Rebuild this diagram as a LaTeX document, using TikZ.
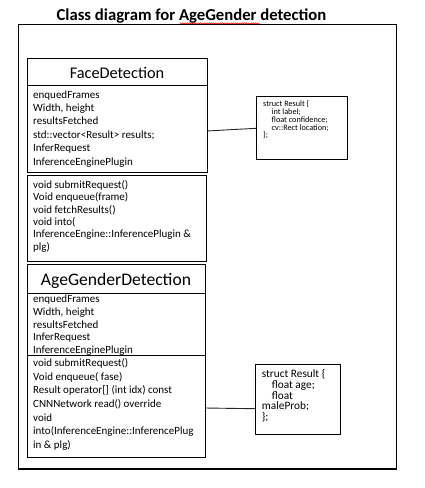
\documentclass[tikz,border=0pt]{standalone}
\usepackage{fontspec}
\setmainfont{Carlito}
\usetikzlibrary{decorations.pathmorphing}
\begin{document}
\begin{tikzpicture}[x=1pt,y=-1pt,
  box/.style={draw=black, line width=0.9pt, inner sep=0pt, outer sep=0pt, anchor=north west},
  frame/.style={draw=black, line width=1.3pt, inner sep=0pt, outer sep=0pt, anchor=north west},
  conn/.style={draw=black!85, line width=0.9pt},
  attr/.style={font=\fontsize{11}{13}\selectfont, anchor=base west, inner sep=0pt},
  ctitle/.style={anchor=base, inner sep=0pt},
  sA/.style={font=\fontsize{8.2}{9}\selectfont, anchor=base west, inner sep=0pt},
  sB/.style={font=\fontsize{11.3}{12}\selectfont, anchor=base west, inner sep=0pt}]
\useasboundingbox (0,0) rectangle (424,488);
% title
\node[ctitle, font=\bfseries\fontsize{16.7}{20}\selectfont] (title) at (191.5,20.7) {Class diagram for AgeGender detection};
% outer frame
\node[frame, minimum width=378pt, minimum height=444.5pt] (frm) at (18.5,24.5) {};
\draw[red, line width=0.5pt, decorate, decoration={snake, amplitude=0.6pt, segment length=2.2pt}] (180,23.4) -- (259.5,23.4);
% FaceDetection
\node[box, minimum width=180pt, minimum height=27pt] (fdtitle) at (27,58) {};
\node[box, minimum width=180pt, minimum height=87.5pt] (fdattr) at (27,85) {};
\node[box, minimum width=179.5pt, minimum height=85.5pt] (fdmeth) at (27,175.5) {};
\node[ctitle, font=\fontsize{16.3}{19}\selectfont] (fdname) at (117,78.3) {FaceDetection};
\foreach \t [count=\i from 0] in {{enquedFrames},{Width, height},{resultsFetched},{std::vector<Result> results;},{InferRequest},{InferenceEnginePlugin}}
  \node[attr] (fda\i) at (33,98+13.4*\i) {\t};
\foreach \t [count=\i from 0] in {{void submitRequest()},{Void enqueue(frame)},{void fetchResults()},{void into(},{InferenceEngine::InferencePlugin \&},{plg)}}
  \node[attr] (fdm\i) at (33,188.5+12.3*\i) {\t};
% AgeGenderDetection
\node[box, minimum width=178pt, minimum height=28.5pt] (agtitle) at (27,264.5) {};
\node[box, minimum width=178pt, minimum height=62.5pt] (agattr) at (27,293) {};
\node[box, minimum width=178pt, minimum height=102pt] (agmeth) at (27,355.5) {};
\node[ctitle, font=\fontsize{17.6}{20}\selectfont] (agname) at (116,285) {AgeGenderDetection};
\foreach \t [count=\i from 0] in {{enquedFrames},{Width, height},{resultsFetched},{InferRequest},{InferenceEnginePlugin}}
  \node[attr] (aga\i) at (33,302.7+12.75*\i) {\t};
\foreach \t [count=\i from 0] in {{void submitRequest()},{Void enqueue( fase)},{Result operator[] (int idx) const},{CNNNetwork read() override},{void},{into(InferenceEngine::InferencePlug},{in \& plg)}}
  \node[attr] (agm\i) at (33,366.7+13.6*\i) {\t};
% struct boxes
\node[box, minimum width=91.3pt, minimum height=63.3pt] (s1) at (256,96) {};
\node[sA] (s1a) at (263,106.8) {struct Result \{};
\node[sA] (s1b) at (271.5,114.5) {int label;};
\node[sA] (s1c) at (271.5,122.3) {float confidence;};
\node[sA] (s1d) at (271.5,130) {cv::Rect location;};
\node[sA] (s1e) at (263,137.8) {\};};
\node[box, minimum width=85pt, minimum height=69.3pt] (s2) at (255,364.7) {};
\node[sB] (s2a) at (261.7,377.5) {struct Result \{};
\node[sB] (s2b) at (271.7,388.2) {float age;};
\node[sB] (s2c) at (271.7,399.2) {float};
\node[sB] (s2d) at (261.7,409.8) {maleProb;};
\node[sB] (s2e) at (261.7,420.8) {\};};
% connectors
\draw[conn] ([yshift=-2.25pt]fdattr.east) -- ([yshift=-0.65pt]s1.west);
\draw[conn] ([yshift=-1.5pt]agmeth.east) -- ([yshift=-9.35pt]s2.west);
\end{tikzpicture}
\end{document}
